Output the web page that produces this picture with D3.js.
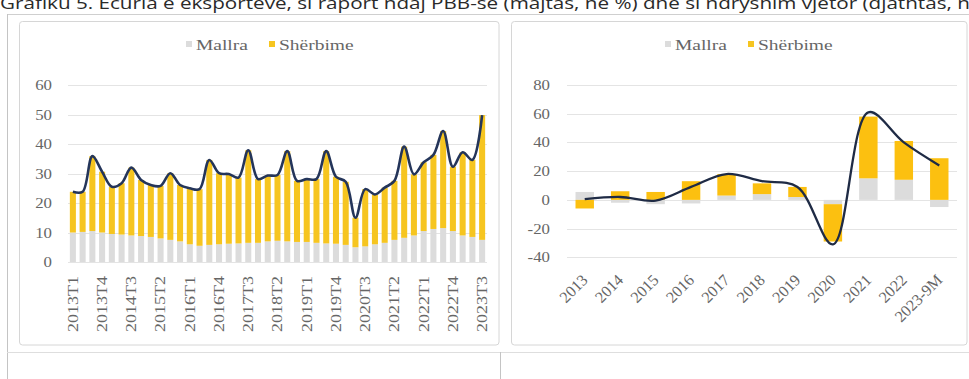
<!DOCTYPE html>
<html><head><meta charset="utf-8">
<script src="https://cdn.jsdelivr.net/npm/d3@7"></script>
<style>html,body{margin:0;padding:0;background:#fff;overflow:hidden}</style>
</head><body>
<svg id="c" width="969" height="379"></svg>
<script>
// ---------- DATA ----------
const quarters = ["2013T1","2013T2","2013T3","2013T4","2014T1","2014T2","2014T3","2014T4",
  "2015T1","2015T2","2015T3","2015T4","2016T1","2016T2","2016T3","2016T4",
  "2017T1","2017T2","2017T3","2017T4","2018T1","2018T2","2018T3","2018T4",
  "2019T1","2019T2","2019T3","2019T4","2020T1","2020T2","2020T3","2020T4",
  "2021T1","2021T2","2021T3","2021T4","2022T1","2022T2","2022T3","2022T4",
  "2023T1","2023T2","2023T3"];
const quarterTickLabels = ["2013T1","2013T4","2014T3","2015T2","2016T1","2016T4","2017T3",
  "2018T2","2019T1","2019T4","2020T3","2021T2","2022T1","2022T4","2023T3"];
const mallraPBB = [10.0,10.2,10.5,10.0, 9.5,9.3,9.0,8.8, 8.5,8.0,7.5,7.0, 6.0,5.5,5.8,6.0,
  6.2,6.3,6.5,6.5, 7.0,7.2,7.0,6.8, 6.8,6.5,6.3,6.2, 5.8,5.0,5.3,6.0,
  6.5,7.5,8.2,9.0, 10.5,11.2,11.5,10.5, 9.0,8.5,7.5];
const sherbimePBB = [13.8,13.6,25.4,20.6, 16.0,17.4,23.0,19.0, 17.6,17.8,22.6,19.1, 19.0,19.2,28.8,24.1,
  23.6,22.3,31.4,21.6, 22.3,22.3,30.6,20.7, 21.3,21.6,31.3,22.7, 21.4,10.0,19.4,16.9,
  18.7,20.0,30.9,20.7, 23.3,25.1,32.9,21.8, 28.2,26.1,42.3];
const leftYTicks = [0,10,20,30,40,50,60];

const years = ["2013","2014","2015","2016","2017","2018","2019","2020","2021","2022","2023-9M"];
const mallraNdr = [5.5,-2,-3,-2.5,3,4,2,-3,15,14,-5];
const sherbimeNdr = [-6,6,5.5,13,15,7.5,7,-26,43,27,29];
const totalNdr = [0.5,2,-0.5,9,18,13,9,-31,61,40,24];
const rightYTicks = [-40,-20,0,20,40,60,80];
const rightYTickLabels = ["-40","-20","0","20","40","60","80"];

const seriesNames = ["Mallra","Shërbime"];
const titleText = "Grafiku 5. Ecuria e eksporteve, si raport ndaj PBB-së (majtas, në %) dhe si ndryshim vjetor (djathtas, në %)";

// ---------- STYLE ----------
const SERIF = "'Liberation Serif','Times New Roman',serif";
const TICK = "#666666";
const GRAY = "#dcdcdc", YELLOW = "#f6c520", LINE = "#24355a";
const svg = d3.select("#c");

// title (clipped at top, as in the reference)
svg.append("text").attr("x", 0).attr("y", 9)
  .attr("font-family", "'Open Sans','Noto Sans',sans-serif").attr("font-size", 16)
  .attr("fill", "#2a2a2a").attr("textLength", 1010).attr("lengthAdjust", "spacingAndGlyphs")
  .text(titleText);

// outer frame lines
svg.append("line").attr("x1", 7).attr("x2", 969).attr("y1", 14.5).attr("y2", 14.5).attr("stroke", "#cfcfcf");
svg.append("line").attr("x1", 7.5).attr("x2", 7.5).attr("y1", 14).attr("y2", 379).attr("stroke", "#c4c4c4");
svg.append("line").attr("x1", 7).attr("x2", 969).attr("y1", 352.5).attr("y2", 352.5).attr("stroke", "#dedede");
svg.append("line").attr("x1", 500.5).attr("x2", 500.5).attr("y1", 352).attr("y2", 379).attr("stroke", "#c4c4c4");

// chart boxes
[[19.5, 499], [511.5, 967]].forEach(([x0, x1]) => {
  svg.append("rect").attr("x", x0).attr("y", 21.5).attr("width", x1 - x0).attr("height", 323.5)
    .attr("rx", 3).attr("fill", "#fff").attr("stroke", "#d6d6d6");
});

function legend(g, xg, xy) {
  const items = [[xg, GRAY, seriesNames[0]], [xy, YELLOW, seriesNames[1]]];
  items.forEach(([x, c, t]) => {
    g.append("rect").attr("x", x - 10).attr("y", 41).attr("width", 6).attr("height", 6).attr("fill", c);
    g.append("text").attr("transform", `translate(${x},50) scale(1.3,1)`)
      .attr("font-family", SERIF).attr("font-size", 15).attr("fill", TICK).text(t);
  });
}

// ---------- LEFT CHART ----------
{
  const g = svg.append("g");
  const x = d3.scaleBand().domain(quarters).range([68, 487]).paddingInner(0.38).paddingOuter(0.19);
  const y = d3.scaleLinear().domain([0, 60]).range([262, 85]);
  g.selectAll(".gl").data(leftYTicks).join("line")
    .attr("x1", 68).attr("x2", 487).attr("y1", d => Math.round(y(d)) + 0.5).attr("y2", d => Math.round(y(d)) + 0.5)
    .attr("stroke", "#e4e4e4");
  g.selectAll(".yl").data(leftYTicks).join("text")
    .attr("transform", d => `translate(52,${y(d) + 5}) scale(1.2,1)`)
    .attr("text-anchor", "end").attr("font-family", SERIF).attr("font-size", 14).attr("fill", TICK)
    .text(d => d);
  const rows = quarters.map((q, i) => ({q, Mallra: mallraPBB[i], "Shërbime": sherbimePBB[i]}));
  const st = d3.stack().keys(seriesNames)(rows);
  const cols = [GRAY, YELLOW];
  st.forEach((s, k) => {
    g.selectAll(".b" + k).data(s).join("rect")
      .attr("x", d => x(d.data.q)).attr("width", x.bandwidth())
      .attr("y", d => y(d[1])).attr("height", d => y(d[0]) - y(d[1]))
      .attr("fill", cols[k]);
  });
  const line = d3.line().x(d => x(d.q) + x.bandwidth() / 2).y(d => y(d.Mallra + d["Shërbime"]))
    .curve(d3.curveCatmullRom.alpha(0.5));
  g.append("path").datum(rows).attr("d", line).attr("fill", "none")
    .attr("stroke", LINE).attr("stroke-width", 2.6).attr("stroke-linejoin", "round");
  g.selectAll(".xl").data(quarterTickLabels).join("text")
    .attr("transform", d => `translate(${x(d) + x.bandwidth() / 2},276) rotate(-90)`)
    .attr("text-anchor", "end").attr("dy", "0.35em")
    .attr("font-family", SERIF).attr("font-size", 14).attr("fill", TICK)
    .attr("textLength", 56).attr("lengthAdjust", "spacingAndGlyphs")
    .text(d => d);
  legend(g, 196, 279);
}

// ---------- RIGHT CHART ----------
{
  const g = svg.append("g");
  const x = d3.scaleBand().domain(years).range([567, 957]).paddingInner(0.48).paddingOuter(0.24);
  const y = d3.scaleLinear().domain([-40, 80]).range([257.3, 85]);
  g.selectAll(".gl").data(rightYTicks).join("line")
    .attr("x1", 567).attr("x2", 957).attr("y1", d => Math.round(y(d)) + 0.5).attr("y2", d => Math.round(y(d)) + 0.5)
    .attr("stroke", "#e4e4e4");
  g.selectAll(".yl").data(rightYTicks).join("text")
    .attr("transform", d => `translate(550,${y(d) + 5}) scale(1.2,1)`)
    .attr("text-anchor", "end").attr("font-family", SERIF).attr("font-size", 14).attr("fill", TICK)
    .text((d, i) => rightYTickLabels[i]);
  const rows = years.map((yr, i) => ({yr, Mallra: mallraNdr[i], "Shërbime": sherbimeNdr[i], total: totalNdr[i]}));
  const st = d3.stack().keys(seriesNames).offset(d3.stackOffsetDiverging)(rows);
  const cols = [GRAY, "#fcc010"];
  st.forEach((s, k) => {
    g.selectAll(".b" + k).data(s).join("rect")
      .attr("x", d => x(d.data.yr)).attr("width", x.bandwidth())
      .attr("y", d => y(Math.max(d[0], d[1]))).attr("height", d => Math.abs(y(d[0]) - y(d[1])))
      .attr("fill", cols[k]);
  });
  const line = d3.line().x(d => x(d.yr) + x.bandwidth() / 2).y(d => y(d.total))
    .curve(d3.curveCatmullRom.alpha(0.5));
  g.append("path").datum(rows).attr("d", line).attr("fill", "none")
    .attr("stroke", "#1f2b45").attr("stroke-width", 2.3).attr("stroke-linejoin", "round");
  g.selectAll(".xl").data(years).join("text")
    .attr("transform", d => `translate(${x(d) + x.bandwidth() / 2 + 4},281) rotate(-45)`)
    .attr("text-anchor", "end")
    .attr("font-family", SERIF).attr("font-size", 16).attr("fill", TICK)
    .text(d => d);
  legend(g, 675, 758);
}
</script>
</body></html>
